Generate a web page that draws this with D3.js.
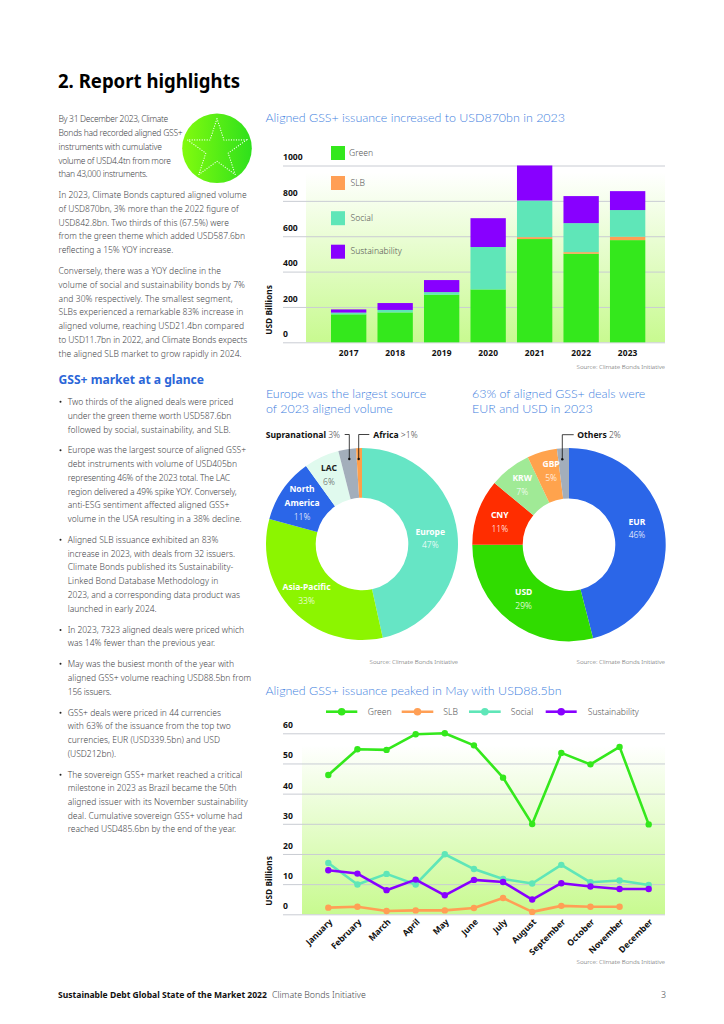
<!DOCTYPE html>
<html><head><meta charset="utf-8">
<script src="https://cdn.jsdelivr.net/npm/d3@7/dist/d3.min.js"></script>
<style>
html,body{margin:0;padding:0;background:#fff}
svg{display:block}
text{font-family:"Noto Sans",sans-serif}
.body{font-size:8.5px;font-weight:300;fill:#3f4448}
.title{font-family:Lato,sans-serif;font-size:12.45px;font-weight:300;fill:#3f7fe0}
.src{font-size:6.2px;font-weight:300;fill:#666;text-anchor:end}
.tick-b{font-size:8.4px;font-weight:700;fill:#111}
.leg{font-size:8.6px;font-weight:300;fill:#555}
</style></head><body>
<script>
// ---------- data ----------
const years = ["2017","2018","2019","2020","2021","2022","2023"];
const themes = ["Green","SLB","Social","Sustainability"];
const themeColors = ["#34e81c","#ff9f55","#5fe6b8","#8800ff"];
const annualGreen = [158,169,269,299,584,501,578];
const annualSLB = [0,0,0,0,11,9,19];
const annualSocial = [10,14,15,240,207,164,151];
const annualSustainability = [18,39,68,163,198,153,107];
const annualTicks = [0,200,400,600,800,1000];

const regions = ["Europe","Asia-Pacific","North America","LAC","Supranational","Africa"];
const regionValues = [47,33,11,6,3,1];
const regionColors = ["#66e5c5","#8cf500","#2b66e8","#e0faee","#a3aebb","#ff9f4a"];
const regionLabels = ["47%","33%","11%","6%","3%",">1%"];
const currencies = ["EUR","USD","CNY","KRW","GBP","Others"];
const currencyValues = [46,29,11,7,5,2];
const currencyColors = ["#2b66e8","#30dc00","#ff2d00","#a0ea96","#ffa34d","#a3aebb"];

const months = ["January","February","March","April","May","June","July","August","September","October","November","December"];
const monthlyGreen = [46.2,54.7,54.5,59.7,60,56,45.3,29.9,53.5,49.7,55.5,29.8];
const monthlySLB = [2.2,2.5,1.1,1.3,1.3,2.1,5.4,0.8,2.8,2.5,2.5,null];
const monthlySocial = [17,9.9,13.4,9.9,19.9,15,11.7,10.2,16.4,10.6,11.2,9.7];
const monthlySustainability = [14.6,13.5,8,11.5,6.3,11.4,10.7,4.9,10.3,9.2,8.4,8.4];
const monthlyTicks = [0,10,20,30,40,50,60];

const introLines = [
 ["By 31 December 2023, Climate",119,168.3],["Bonds had recorded aligned GSS+",132.7,182.7],["instruments with cumulative",146.6,162],["volume of USD4.4tn from more",160.6,171],["than 43,000 instruments.",174,147.7],
 ["In 2023, Climate Bonds captured aligned volume",195,246.7],["of USD870bn, 3% more than the 2022 figure of",208.7,238.7],["USD842.8bn. Two thirds of this (67.5%) were",222.7,229],["from the green theme which added USD587.6bn",236.3,245],["reflecting a 15% YOY increase.",250,173.3],
 ["Conversely, there was a YOY decline in the",271,221],["volume of social and sustainability bonds by 7%",285,245],["and 30% respectively. The smallest segment,",298.7,232.7],["SLBs experienced a remarkable 83% increase in",312.3,243.3],["aligned volume, reaching USD21.4bn compared",326.3,244],["to USD11.7bn in 2022, and Climate Bonds expects",340,247.3],["the aligned SLB market to grow rapidly in 2024.",353.7,241.7]];
const bulletLines = [
 ["Two thirds of the aligned deals were priced",401.7,233.3,1],["under the green theme worth USD587.6bn",415.7,231.3],["followed by social, sustainability, and SLB.",429.7,230.7],
 ["Europe was the largest source of aligned GSS+",450.3,246,1],["debt instruments with volume of USD405bn",464,237],["representing 46% of the 2023 total. The LAC",477.7,230],["region delivered a 49% spike YOY. Conversely,",491.7,236.7],["anti-ESG sentiment affected aligned GSS+",505.3,229.3],["volume in the USA resulting in a 38% decline.",519,241.7],
 ["Aligned SLB issuance exhibited an 83%",539.7,218.3,1],["increase in 2023, with deals from 32 issuers.",553.7,235],["Climate Bonds published its Sustainability-",567.3,233.3],["Linked Bond Database Methodology in",581,218.3],["2023, and a corresponding data product was",595.3,240],["launched in early 2024.",609,156.7],
 ["In 2023, 7323 aligned deals were priced which",630,244,1],["was 14% fewer than the previous year.",643.3,215],
 ["May was the busiest month of the year with",663.7,234,1],["aligned GSS+ volume reaching USD88.5bn from",677.7,251],["156 issuers.",691.7,111.7],
 ["GSS+ deals were priced in 44 currencies",712.7,221,1],["with 63% of the issuance from the top two",726,230.7],["currencies, EUR (USD339.5bn) and USD",739.7,220],["(USD212bn).",753.7,116],
 ["The sovereign GSS+ market reached a critical",774.7,242.3,1],["milestone in 2023 as Brazil became the 50th",788,236.7],["aligned issuer with its November sustainability",802,247.7],["deal. Cumulative sovereign GSS+ volume had",815.7,242.3],["reached USD485.6bn by the end of the year.",829.3,236]];

// ---------- page ----------
const svg = d3.select("body").append("svg").attr("width",724).attr("height",1024);
const defs = svg.append("defs");
function vGrad(id,stops){
  const g=defs.append("linearGradient").attr("id",id).attr("x1",0).attr("x2",0).attr("y1",0).attr("y2",1);
  stops.forEach(s=>g.append("stop").attr("offset",s[0]).attr("stop-color",s[1]));
}
vGrad("bg",[[0,"#ffffff"],[1,"#c8fa90"]]);
const sg=defs.append("linearGradient").attr("id","starBg");
sg.append("stop").attr("offset",0).attr("stop-color","#82fb0e");
sg.append("stop").attr("offset",1).attr("stop-color","#2ee01c");

function t(x,y,s,cls){return svg.append("text").attr("x",x).attr("y",y).attr("dy","0.35em").attr("class",cls||"body").text(s);}
function fit(sel,x,right,adj){return sel.attr("textLength",right-x).attr("lengthAdjust",adj||"spacing");}
function title2(x,y1,y2,a,b){
  const el=svg.append("text").attr("class","title");
  el.append("tspan").attr("x",x).attr("y",y1).attr("dy","0.35em").text(a);
  if(b){el.append("tspan").attr("x",x).attr("y",y2).attr("dy","0.35em").text(b);}
  return el;
}

fit(t(58,81.7,"2. Report highlights").attr("class",null).style("font-size","19.2px").style("font-weight",700).style("fill","#000"),58,240,"spacingAndGlyphs");
introLines.forEach(l=>fit(t(58.5,l[1],l[0]),58.5,l[2]));
fit(t(58.5,380,"GSS+ market at a glance").attr("class",null).style("font-size","12.1px").style("font-weight",700).style("fill","#2b66d8"),58.5,204,"spacingAndGlyphs");
bulletLines.forEach(l=>{
  fit(t(67.7,l[1],l[0]),67.7,l[2]);
  if(l[3]) svg.append("circle").attr("cx",60.5).attr("cy",l[1]).attr("r",1).attr("fill","#222");
});

// star badge
svg.append("circle").attr("cx",217).attr("cy",148.3).attr("r",34.8).attr("fill","url(#starBg)");
const starPts=d3.range(10).map(i=>[i*Math.PI/5,i%2?11.8:31]);
svg.append("path").attr("transform","translate(217,149.5)")
  .attr("d",d3.lineRadial().curve(d3.curveLinearClosed)(starPts))
  .attr("fill","none").attr("stroke","#fff").attr("stroke-width",1.15)
  .attr("stroke-linecap","round").attr("stroke-dasharray","0.1 2.4");

// footer
t(58,995,"Sustainable Debt Global State of the Market 2022").attr("class",null).style("font-size","8.55px").style("font-weight",700).style("fill","#111");
t(272,995,"Climate Bonds Initiative").style("font-size","8.8px");
t(661,995,"3").style("font-size","8.8px");

// ---------- shared ----------
function gridAxis(scale,ticks,left,right){
  const g=svg.append("g").attr("transform",`translate(${left},0)`)
    .call(d3.axisRight(scale).tickValues(ticks).tickSize(right-left).tickFormat(d3.format("d")));
  g.select(".domain").remove();
  g.selectAll("line").attr("stroke","#c9ccd3").attr("stroke-width",1);
  g.selectAll("text").attr("class","tick-b").attr("x",0).attr("dy",-5.6).attr("text-anchor","start").style("font-family",'"Noto Sans",sans-serif').style("font-size","8.6px");
  return g;
}
function yTitle(x,y){
  svg.append("text").attr("transform",`translate(${x},${y}) rotate(-90)`).attr("text-anchor","middle").attr("dy","0.35em")
    .attr("class","tick-b").style("font-size","8.4px").text("USD Billions");
}

// ---------- stacked bars ----------
title2(265.5,117.5,0,"Aligned GSS+ issuance increased to USD870bn in 2023");
const yBar=d3.scaleLinear().domain([0,1000]).range([342.3,165.5]);
svg.append("rect").attr("x",306).attr("y",yBar(960)).attr("width",359).attr("height",yBar(0)-yBar(960)).attr("fill","url(#bg)");
gridAxis(yBar,annualTicks,283,665);
const xBar=d3.scaleBand().domain(years).range([331,645.3]).paddingInner(0.24);
const annualRows=years.map((y,i)=>({year:y,Green:annualGreen[i],SLB:annualSLB[i],Social:annualSocial[i],Sustainability:annualSustainability[i]}));
const stacked=d3.stack().keys(themes)(annualRows);
svg.append("g").selectAll("g").data(stacked).join("g").attr("fill",(d,i)=>themeColors[i])
  .selectAll("rect").data(d=>d).join("rect")
  .attr("x",d=>xBar(d.data.year)).attr("width",xBar.bandwidth())
  .attr("y",d=>yBar(d[1])).attr("height",d=>yBar(d[0])-yBar(d[1]));
const xBarAxis=svg.append("g").attr("transform","translate(0,342.3)").call(d3.axisBottom(xBar).tickSize(0));
xBarAxis.select(".domain").remove();
xBarAxis.selectAll("text").attr("class","tick-b").attr("y",8).style("font-family",'"Noto Sans",sans-serif').style("font-size","8.4px").style("letter-spacing","0.2px");
yTitle(269,310);
const barLegY=[153,183,218.2,251.7];
themes.forEach((n,i)=>{
  svg.append("rect").attr("x",331).attr("y",barLegY[i]-7).attr("width",14).attr("height",14).attr("fill",themeColors[i]);
  t(i?350.5:349,barLegY[i]-0.5,n,"leg");
});
t(665,367,"Source: Climate Bonds Initiative","src");

// ---------- donuts ----------
function donut(cx,cy,r0,r1,vals,cols){
  const arcs=d3.pie().sort(null)(vals);
  const arc=d3.arc().innerRadius(r0).outerRadius(r1);
  const g=svg.append("g").attr("transform",`translate(${cx},${cy})`);
  g.selectAll("path").data(arcs).join("path").attr("d",arc).attr("fill",(d,i)=>cols[i]);
  return arcs.map(a=>{const c=arc.centroid(a);return [cx+c[0],cy+c[1]];});
}
function dLabel(p,names,pct,dx,dy,col,pctCol){
  const x=p[0]+dx,y=p[1]+dy;
  names.forEach((n,i)=>svg.append("text").attr("x",x).attr("y",y+i*14).attr("dy","0.35em").attr("text-anchor","middle")
    .style("font-size","8.5px").style("font-weight",700).style("fill",col).text(n));
  svg.append("text").attr("x",x).attr("y",y+names.length*13.7).attr("dy","0.35em").attr("text-anchor","middle")
    .style("font-size","8.5px").style("font-weight",300).style("fill",pctCol||col).text(pct);
}
function callout(xA,xB,yTop,yDot){
  svg.append("path").attr("d",`M${xB},${yTop}H${xA}V${yDot}`).attr("fill","none").attr("stroke","#111").attr("stroke-width",.8);
  svg.append("circle").attr("cx",xA).attr("cy",yDot).attr("r",1.2).attr("fill","#111");
}
function inlineLabel(x,y,bold,light){
  const el=svg.append("text").attr("x",x).attr("y",y).attr("dy","0.35em").style("font-size","8.6px");
  el.append("tspan").style("font-weight",700).style("fill","#111").text(bold);
  el.append("tspan").style("font-weight",300).style("fill","#444").text(" "+light);
}
title2(266,393.6,408.7,"Europe was the largest source","of 2023 aligned volume");
title2(472,393.6,408.7,"63% of aligned GSS+ deals were","EUR and USD in 2023");

const c1=donut(362,544,46.3,96,regionValues,regionColors);
dLabel(c1[0],["Europe"],regionLabels[0],-2.5,-4.5,"#fff");
dLabel(c1[1],["Asia-Pacific"],regionLabels[1],-4,-6,"#fff");
dLabel(c1[2],["North","America"],regionLabels[2],-1.5,-14,"#fff");
dLabel(c1[3],["LAC"],regionLabels[3],-3,-11.5,"#222","#555");
callout(349.3,344.7,434.5,459);
callout(358.7,369.3,434.5,459);
inlineLabel(265.7,435,regions[4],regionLabels[4]);
inlineLabel(373.3,435,regions[5],regionLabels[5]);

const c2=donut(569,544.7,46.3,96.7,currencyValues,currencyColors);
dLabel(c2[0],["EUR"],"46%",-3,-14,"#fff");
dLabel(c2[1],["USD"],"29%",-1.5,-9,"#fff");
dLabel(c2[2],["CNY"],"11%",-2,-5,"#fff");
dLabel(c2[3],["KRW"],"7%",-3,-10,"#fff");
dLabel(c2[4],["GBP"],"5%",2,-12,"#fff");
callout(562.3,573.7,434.7,459.3);
inlineLabel(577.3,434.7,currencies[5],"2%");
t(458,661.7,"Source: Climate Bonds Initiative","src");
t(665,661.7,"Source: Climate Bonds Initiative","src");

// ---------- monthly lines ----------
title2(265.5,690.7,0,"Aligned GSS+ issuance peaked in May with USD88.5bn");
const yLine=d3.scaleLinear().domain([0,60]).range([914.3,733.3]);
svg.append("rect").attr("x",302).attr("y",yLine(56)).attr("width",363).attr("height",yLine(0)-yLine(56)).attr("fill","url(#bg)");
gridAxis(yLine,monthlyTicks,283,665);
const xLine=d3.scalePoint().domain(months).range([328.3,648.7]);
const monthlySeries=[monthlyGreen,monthlySLB,monthlySocial,monthlySustainability];
const line=d3.line().defined(d=>d.v!=null).x(d=>xLine(d.m)).y(d=>yLine(d.v));
[0,1,2,3].forEach(i=>{
  const pts=months.map((m,j)=>({m,v:monthlySeries[i][j]}));
  svg.append("path").attr("d",line(pts)).attr("fill","none").attr("stroke",themeColors[i]).attr("stroke-width",2.6).attr("stroke-linejoin","round");
  svg.append("g").selectAll("circle").data(pts.filter(p=>p.v!=null)).join("circle")
    .attr("cx",d=>xLine(d.m)).attr("cy",d=>yLine(d.v)).attr("r",3.2).attr("fill",themeColors[i]);
});
const lineLeg=[[326,357.3,367.7],[401.7,433.3,443.3],[469,500.7,510.7],[545.7,576.7,587.7]];
themes.forEach((n,i)=>{
  const L=lineLeg[i];
  svg.append("line").attr("x1",L[0]).attr("x2",L[1]).attr("y1",711.7).attr("y2",711.7).attr("stroke",themeColors[i]).attr("stroke-width",2.6);
  svg.append("circle").attr("cx",(L[0]+L[1])/2).attr("cy",711.7).attr("r",3.8).attr("fill",themeColors[i]);
  t(L[2],711.7,n,"leg");
});
const xLineAxis=svg.append("g").attr("transform","translate(0,914.3)").call(d3.axisBottom(xLine).tickSize(0));
xLineAxis.select(".domain").remove();
xLineAxis.selectAll("text").attr("class","tick-b").style("font-family",'"Noto Sans",sans-serif').style("font-size","8.6px")
  .attr("text-anchor","end").attr("transform","translate(2,6) rotate(-45)").attr("x",0).attr("y",0).attr("dy","0.35em");
yTitle(269,881);
t(665,962,"Source: Climate Bonds Initiative","src");
</script>
</body></html>
